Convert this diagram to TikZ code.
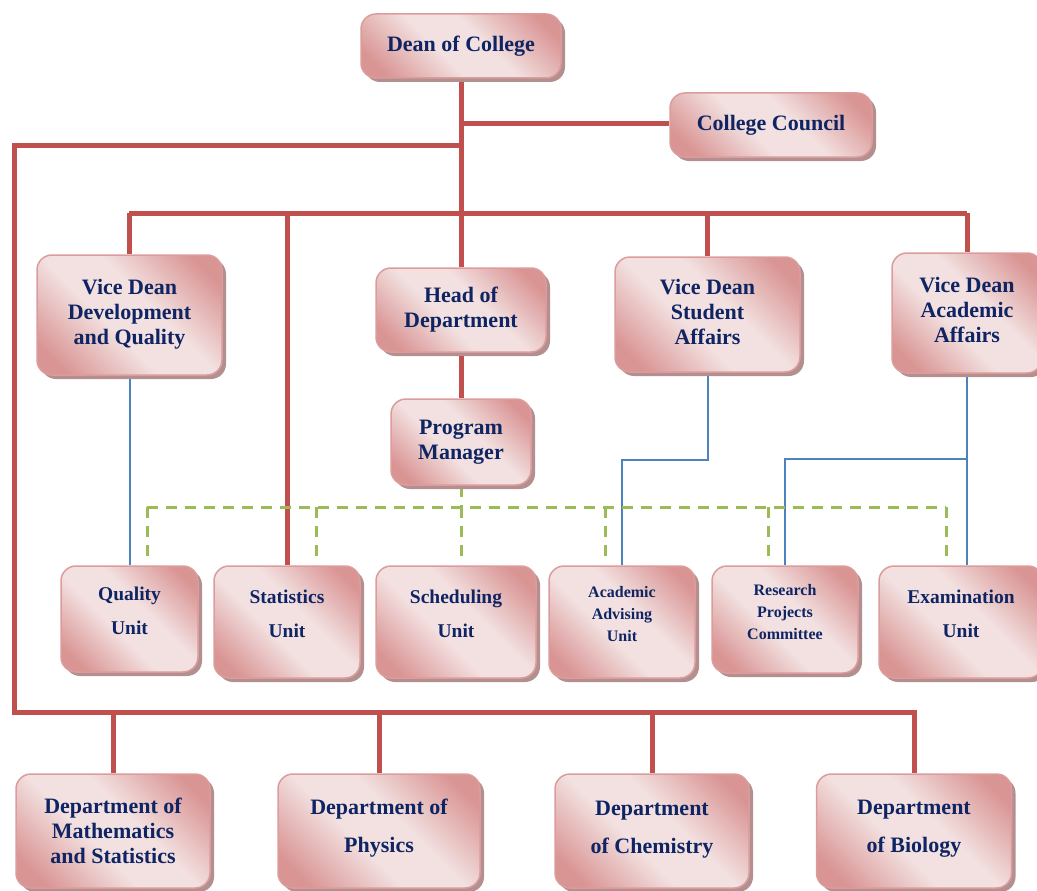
\documentclass[tikz,border=0pt]{standalone}
\usepackage{fontspec}
\setmainfont{Liberation Serif}
\usetikzlibrary{shadows}
\definecolor{pinkL}{HTML}{F3E1E1}
\definecolor{pinkD}{HTML}{D99594}
\definecolor{pinkE}{HTML}{DC9C9B}
\definecolor{shadowC}{HTML}{B38F8F}
\definecolor{navy}{HTML}{0F2462}
\definecolor{redC}{HTML}{C0504D}
\definecolor{blueC}{HTML}{4F81BD}
\definecolor{greenC}{HTML}{9BBB59}
\pgfdeclarehorizontalshading{boxshade}{100bp}{color(0bp)=(pinkD); color(22bp)=(pinkD); color(43bp)=(pinkL); color(57bp)=(pinkL); color(78bp)=(pinkD); color(100bp)=(pinkD)}
\pgfdeclarelayer{bg}
\pgfsetlayers{bg,main}
\begin{document}
\begin{tikzpicture}[x=1pt,y=-1pt,
  box/.style={draw=pinkE,line width=1.5pt,rounded corners=15pt,shading=boxshade,shading angle=45,
    drop shadow={shadow xshift=4pt,shadow yshift=-4pt,fill=shadowC,opacity=1},
    text=navy,align=center,inner sep=0pt,font=\bfseries\fontsize{22}{25}\selectfont},
  unit/.style={box,text depth=16pt,font=\bfseries\fontsize{19.5}{34}\selectfont},
  smallunit/.style={box,text depth=16pt,font=\bfseries\fontsize{16}{22}\selectfont},
  dept/.style={box,font=\bfseries\fontsize{22}{38}\selectfont},
  redln/.style={draw=redC,line width=5pt},
  blueln/.style={draw=blueC,line width=2pt},
  greenln/.style={draw=greenC,line width=3pt,dash pattern=on 11pt off 8pt}]
\useasboundingbox (0,0) rectangle (1037,891);
\clip (0,0) rectangle (1037,891);
% top level
\node[box,minimum width=200pt,minimum height=64pt] (dean) at (461,46) {Dean of College};
\node[box,minimum width=202pt,minimum height=64pt] (council) at (771,125) {College Council};
% vice deans and head
\node[box,text depth=6pt,minimum width=185pt,minimum height=120pt] (vddev) at (129.5,315) {Vice Dean\\Development\\and Quality};
\node[box,minimum width=170pt,minimum height=84pt] (hod) at (461,310) {Head of\\Department};
\node[box,minimum width=140pt,minimum height=86pt] (pm) at (461,442) {Program\\Manager};
\node[box,text depth=6pt,minimum width=185pt,minimum height=115pt] (vdstu) at (707.5,314.5) {Vice Dean\\Student\\Affairs};
\node[box,text depth=6pt,minimum width=150pt,minimum height=120pt] (vdacad) at (967,313) {Vice Dean\\Academic\\Affairs};
% units
\node[unit,minimum width=137pt,minimum height=106pt] (quality) at (129.5,619) {Quality\\Unit};
\node[unit,minimum width=146pt,minimum height=112pt] (stat) at (287,622) {Statistics\\Unit};
\node[unit,minimum width=160pt,minimum height=112pt] (sched) at (456,622) {Scheduling\\Unit};
\node[smallunit,minimum width=146pt,minimum height=112pt] (advis) at (622,622) {Academic\\Advising\\Unit};
\node[smallunit,minimum width=146pt,minimum height=107pt] (research) at (785,619.5) {Research\\Projects\\Committee};
\node[unit,minimum width=164pt,minimum height=112pt] (exam) at (961,622) {Examination\\Unit};
% departments
\node[dept,font=\bfseries\fontsize{22}{25}\selectfont,minimum width=194pt,minimum height=114pt] (math) at (113,831) {Department of\\Mathematics\\and Statistics};
\node[dept,text depth=10pt,minimum width=202pt,minimum height=114pt] (phys) at (379,831) {Department of\\Physics};
\node[dept,text depth=8pt,minimum width=194pt,minimum height=114pt] (chem) at (652,831) {Department\\of Chemistry};
\node[dept,text depth=10pt,minimum width=195pt,minimum height=114pt] (bio) at (914,831) {Department\\of Biology};
% connectors
\coordinate (cj) at (461,123);
\coordinate (fj) at (461,145);
\coordinate (fl) at (14,145);
\coordinate (fb) at (14,712);
\coordinate (barL) at (129,213);
\coordinate (barR) at (967,213);
\coordinate (acj) at (967,459);
\coordinate (gL) at (147,507);
\coordinate (gR) at (946,507);
\begin{pgfonlayer}{bg}
\draw[redln] (dean.south) -- (hod.north);
\draw[redln] (cj) -- (cj -| council.west);
\draw[redln] (barL) -- (barR);
\foreach \n in {vddev,stat,vdstu,vdacad} {\draw[redln] (barL -| \n.north) -- (\n.north);}
\draw[redln] (hod.south) -- (pm.south |- hod.south) -- (pm.north);
\draw[redln] (fj) -- (fl) -- (fb) -- (fb -| bio.north) -- (bio.north);
\foreach \n in {math,phys,chem} {\draw[redln] (fb -| \n.north) -- (\n.north);}
% blue lines
\draw[blueln] (vddev.south) -- (quality.north);
\draw[blueln] (vdstu.south) -- ++(0,87) -| (advis.north);
\draw[blueln] (vdacad.south) -- (vdacad.south |- exam.north);
\draw[blueln] (acj) -| (research.north);
% green dashed
\draw[greenln] (pm.south) -- (pm.south |- gL);
\draw[greenln] (gL) -- (gR);
\foreach \x in {147,316,461,605,768,946} {\draw[greenln] (\x,507) -- (\x,562);}
\end{pgfonlayer}
\end{tikzpicture}
\end{document}
